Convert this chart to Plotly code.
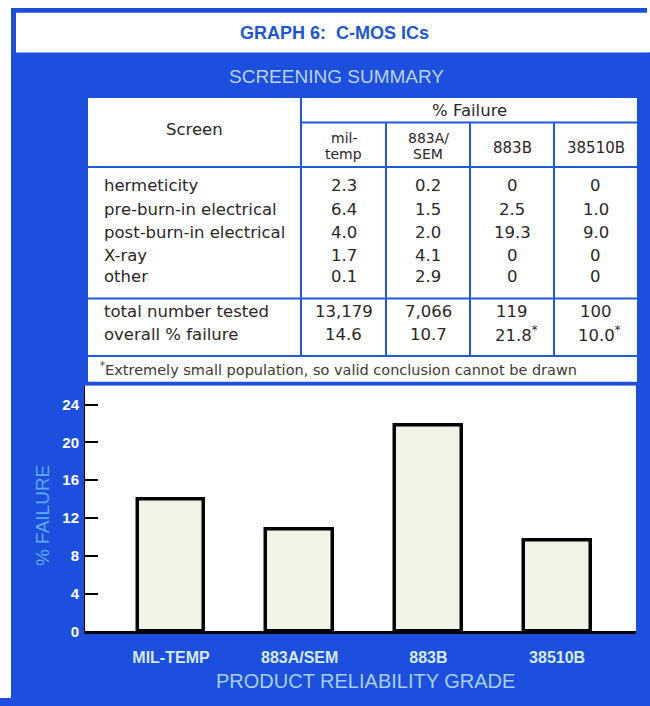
import plotly.graph_objects as go

# ---------------- data ----------------
grades = ["MIL-TEMP", "883A/SEM", "883B", "38510B"]
bar_failure = [14.0, 10.8, 21.8, 9.6]          # % failure as drawn in the bar chart
y_ticks = [0, 4, 8, 12, 16, 20, 24]

table_cols = ["mil-\ntemp", "883A/\nSEM", "883B", "38510B"]
screens = ["hermeticity", "pre-burn-in electrical", "post-burn-in electrical", "X-ray", "other"]
mil_temp = [2.3, 6.4, 4.0, 1.7, 0.1]
a883_sem = [0.2, 1.5, 2.0, 4.1, 2.9]
b883 = [0, 2.5, 19.3, 0, 0]
m38510b = [0, 1.0, 9.0, 0, 0]
total_tested = ["13,179", "7,066", "119", "100"]
overall_failure = [14.6, 10.7, 21.8, 10.0]
small_population = [False, False, True, True]

title_text = "GRAPH 6:  C-MOS ICs"
subtitle_text = "SCREENING SUMMARY"
footnote_text = "Extremely small population, so valid conclusion cannot be drawn"
x_title = "PRODUCT RELIABILITY GRADE"
y_title = "% FAILURE"

# ---------------- geometry helpers ----------------
W, H = 650, 706
BLUE = "#1d4fdf"
LINEBLUE = "#1f5ad6"
TXT = "#2b2626"
FONT = "Liberation Sans, Arial, sans-serif"
TFONT = "DejaVu Sans, Liberation Sans, sans-serif"


def px(x):
    return x / W


def py(y):
    return 1 - y / H


def fmt(v):
    return "0" if v == 0 else f"{v:.1f}"


fig = go.Figure()

fig.add_trace(go.Bar(
    x=grades, y=bar_failure, width=0.52,
    marker=dict(color="#f3f2e7", line=dict(color="black", width=3.5)),
    hoverinfo="x+y",
))

shapes = []


def rect(x0, y0, x1, y1, color):
    shapes.append(dict(type="rect", xref="paper", yref="paper", layer="below",
                       x0=px(x0), x1=px(x1), y0=py(y1), y1=py(y0),
                       fillcolor=color, line=dict(width=0)))


def hline(x0, x1, y, w=2):
    shapes.append(dict(type="line", xref="paper", yref="paper", layer="above",
                       x0=px(x0), x1=px(x1), y0=py(y), y1=py(y),
                       line=dict(color=LINEBLUE, width=w)))


def vline(x, y0, y1, w=2):
    shapes.append(dict(type="line", xref="paper", yref="paper", layer="above",
                       x0=px(x), x1=px(x), y0=py(y0), y1=py(y1),
                       line=dict(color=LINEBLUE, width=w)))


# outer white margins and white boxes
rect(0, 0, 11, H, "white")
rect(0, 0, W, 8, "white")
rect(16, 13, 647, 53, "white")      # title box
rect(647, 0, W, 53, "white")
rect(88, 99, 637, 386, "white")     # table box

# table rules
T_L, T_R = 88, 637
col_edges = [301, 386, 470, 554, 637]
hline(col_edges[0], T_R, 124)
hline(T_L, T_R, 169)
hline(T_L, T_R, 302)
hline(T_L, T_R, 360)
vline(col_edges[0], 99, 360)
for cx in col_edges[1:-1]:
    vline(cx, 124, 360)

ann = []


def text(x, y, s, size, color=TXT, anchor="center", bold=False, angle=0, family=FONT):
    ann.append(dict(xref="paper", yref="paper", x=px(x), y=py(y), text=s,
                    showarrow=False, xanchor=anchor, yanchor="middle",
                    textangle=angle,
                    font=dict(family=family, size=size, color=color,
                              weight="bold" if bold else "normal")))


# titles
text(334, 33, title_text, 18, color="#1d55d8", bold=True)
text(336, 77, subtitle_text, 19, color="#b9d3f3")

# table header
text((T_L + col_edges[0]) / 2, 131, "Screen", 16.5, family=TFONT)
text((col_edges[0] + T_R) / 2, 112, "% Failure", 16.5, family=TFONT)
centers = [(col_edges[i] + col_edges[i + 1]) / 2 for i in range(4)]
for c, lab in zip(centers, table_cols):
    parts = lab.split("\n")
    if len(parts) == 2:
        text(c, 140, parts[0], 14, family=TFONT)
        text(c, 156, parts[1], 14, family=TFONT)
    else:
        text(c, 150, parts[0], 15, family=TFONT)

# table body
row_y = [188, 212, 235, 258, 280]
cols_vals = [mil_temp, a883_sem, b883, m38510b]
for i, (lab, yy) in enumerate(zip(screens, row_y)):
    text(102, yy, lab, 16.5, anchor="left", family=TFONT)
    for c, vals in zip(centers, cols_vals):
        text(c, yy, fmt(vals[i]), 16.5, family=TFONT)

text(102, 315, "total number tested", 16.5, anchor="left", family=TFONT)
text(102, 338, "overall % failure", 16.5, anchor="left", family=TFONT)
for c, n, o, star in zip(centers, total_tested, overall_failure, small_population):
    text(c, 315, n, 16.5, family=TFONT)
    text(c + (4 if star else 0), 338, fmt(o) + ("<sup>*</sup>" if star else ""), 16.5, family=TFONT)

text(98, 373, "<sup>*</sup>" + footnote_text, 14.5, color="#3b3a2c", anchor="left", family=TFONT)

# axis titles
text(365, 689, x_title, 20, color="#a6d0fb")
text(42, 522, y_title, 19, color="#5fa9f2", angle=-90)

plot_top, plot_bot = 390, 638.5
unit = 9.55
fig.update_layout(
    width=W, height=H,
    margin=dict(l=0, r=0, t=0, b=0),
    paper_bgcolor=BLUE,
    plot_bgcolor="white",
    showlegend=False,
    bargap=0,
    shapes=shapes,
    annotations=ann,
    font=dict(family=FONT),
    xaxis=dict(
        domain=[px(85), px(636)],
        range=[-0.668, 3.613],
        showgrid=False, zeroline=False,
        showline=True, linecolor="black", linewidth=3,
        ticks="", tickfont=dict(family=FONT, size=16, color="#d4eaff", weight="bold"),
        ticklabelstandoff=10,
        fixedrange=True,
    ),
    yaxis=dict(
        domain=[py(plot_bot), py(plot_top)],
        range=[0, (plot_bot - plot_top) / unit],
        tickvals=y_ticks,
        showgrid=False, zeroline=False,
        showline=True, linecolor="black", linewidth=1,
        ticks="inside", ticklen=13, tickwidth=1.5, tickcolor="black",
        tickfont=dict(family=FONT, size=15, color="white", weight="bold"),
        ticklabelstandoff=2,
        fixedrange=True,
    ),
)

fig.write_html("out.html", config={"displayModeBar": False},
               post_script="document.body.style.margin='0';document.body.style.overflow='hidden';")
